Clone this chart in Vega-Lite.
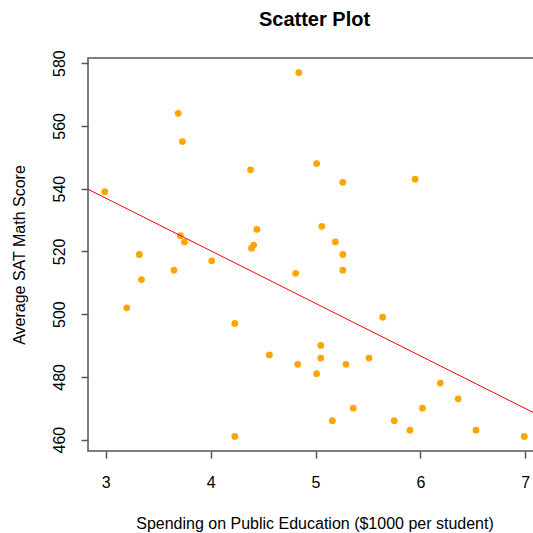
{
  "$schema": "https://vega.github.io/schema/vega-lite/v6.json",
  "autosize": {"type": "none"},
  "padding": {"left": 88, "top": 58, "right": 0, "bottom": 82},
  "width": 453,
  "height": 393,
  "background": "white",
  "title": {
    "text": "Scatter Plot",
    "font": "Liberation Sans",
    "fontSize": 20,
    "fontWeight": "bold",
    "color": "black",
    "anchor": "middle",
    "baseline": "alphabetic",
    "offset": 4
  },
  "datasets": {
    "points": [
      {"spend": 4.84, "sat": 577}, {"spend": 3.69, "sat": 564}, {"spend": 3.73, "sat": 555},
      {"spend": 4.38, "sat": 546}, {"spend": 5.01, "sat": 548}, {"spend": 2.99, "sat": 539},
      {"spend": 4.44, "sat": 527}, {"spend": 5.06, "sat": 528}, {"spend": 3.71, "sat": 525},
      {"spend": 3.75, "sat": 523}, {"spend": 4.41, "sat": 522}, {"spend": 4.39, "sat": 521},
      {"spend": 3.32, "sat": 519}, {"spend": 4.01, "sat": 517}, {"spend": 5.26, "sat": 542},
      {"spend": 5.95, "sat": 543}, {"spend": 5.19, "sat": 523}, {"spend": 5.26, "sat": 519},
      {"spend": 5.26, "sat": 514}, {"spend": 3.34, "sat": 511}, {"spend": 3.65, "sat": 514},
      {"spend": 4.81, "sat": 513}, {"spend": 3.2, "sat": 502}, {"spend": 4.23, "sat": 497},
      {"spend": 4.56, "sat": 487}, {"spend": 5.05, "sat": 490}, {"spend": 5.05, "sat": 486},
      {"spend": 4.83, "sat": 484}, {"spend": 5.01, "sat": 481}, {"spend": 4.23, "sat": 461},
      {"spend": 5.64, "sat": 499}, {"spend": 5.29, "sat": 484}, {"spend": 5.51, "sat": 486},
      {"spend": 6.19, "sat": 478}, {"spend": 6.36, "sat": 473}, {"spend": 5.36, "sat": 470},
      {"spend": 6.02, "sat": 470}, {"spend": 5.16, "sat": 466}, {"spend": 5.75, "sat": 466},
      {"spend": 5.9, "sat": 463}, {"spend": 6.53, "sat": 463}, {"spend": 6.99, "sat": 461}
    ],
    "fit": [
      {"spend": 2.83, "sat": 539.8},
      {"spend": 7.15, "sat": 467.4}
    ]
  },
  "config": {
    "view": {"stroke": "#555555", "strokeWidth": 1.5},
    "axis": {
      "grid": false,
      "domain": false,
      "tickColor": "#555555",
      "tickWidth": 1.5,
      "tickSize": 7,
      "labelFont": "Liberation Sans",
      "labelFontSize": 16,
      "labelColor": "black",
      "titleFont": "Liberation Sans",
      "titleFontSize": 16,
      "titleFontWeight": "normal",
      "titleColor": "black"
    }
  },
  "layer": [
    {
      "data": {"name": "points"},
      "mark": {"type": "circle", "size": 46, "color": "#FFA500", "opacity": 1},
      "encoding": {
        "x": {
          "field": "spend",
          "type": "quantitative",
          "scale": {"domain": [2.83, 7.15], "nice": false, "zero": false},
          "axis": {
            "title": "Spending on Public Education ($1000 per student)",
            "values": [3, 4, 5, 6, 7],
            "format": "d",
            "labelPadding": 16,
            "labelFlush": false,
            "labelOverlap": false,
            "titleBaseline": "alphabetic",
            "titleY": 77
          }
        },
        "y": {
          "field": "sat",
          "type": "quantitative",
          "scale": {"domain": [456.36, 581.64], "nice": false, "zero": false},
          "axis": {
            "title": "Average SAT Math Score",
            "values": [460, 480, 500, 520, 540, 560, 580],
            "labelAngle": -90,
            "labelAlign": "center",
            "labelBaseline": "alphabetic",
            "labelPadding": 17,
            "labelFlush": false,
            "labelOverlap": false,
            "titleBaseline": "alphabetic",
            "titleAngle": -90,
            "titleX": -63.5,
            "titleY": 196.5
          }
        }
      }
    },
    {
      "data": {"name": "fit"},
      "mark": {"type": "line", "color": "red", "strokeWidth": 1},
      "encoding": {
        "x": {"field": "spend", "type": "quantitative"},
        "y": {"field": "sat", "type": "quantitative"}
      }
    }
  ]
}
